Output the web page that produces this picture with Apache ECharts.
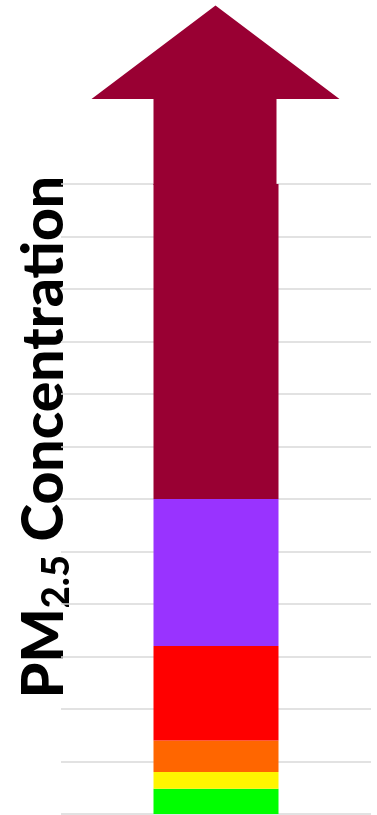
<!DOCTYPE html>
<html>
<head>
<meta charset="utf-8">
<script src="https://cdn.jsdelivr.net/npm/echarts@6/dist/echarts.min.js"></script>
<style>
html,body{margin:0;padding:0;background:#fff;}
#chart{width:377px;height:815px;}
</style>
</head>
<body>
<div id="chart"></div>
<script>
// Data
const categories = ['PM2.5'];
const levelNames = ['Good', 'Moderate', 'Unhealthy for Sensitive Groups', 'Unhealthy', 'Very Unhealthy', 'Hazardous'];
const levelValues = [12, 8, 15, 45, 70, 150];   // stacked segment heights (tops: 12, 20, 35, 80, 150, 300)
const levelColors = ['#00FF00', '#FFF500', '#FF6600', '#FF0000', '#9933FF', '#990033'];
const yMin = 0, yMax = 300, yInterval = 25;
// Arrow (in data units): shaft from bar top to shaftTop, head from shaftTop to tip
const arrowBase = [300];
const arrowShaftTop = [340.5];
const arrowTip = [385];

const chart = echarts.init(document.getElementById('chart'), null, {renderer: 'canvas'});

const series = levelNames.map((name, i) => ({
  name: name,
  type: 'bar',
  stack: 'pm',
  barWidth: 125,
  data: [levelValues[i]],
  itemStyle: {color: levelColors[i]},
  emphasis: {disabled: true},
  silent: true,
  z: 3
}));

series.push({
  type: 'custom',
  name: 'arrow',
  silent: true,
  clip: false,
  z: 4,
  data: [[0, arrowBase[0], arrowShaftTop[0], arrowTip[0]]],
  renderItem: function (params, api) {
    const c = api.coord([api.value(0), api.value(1)]);
    const s = api.coord([api.value(0), api.value(2)]);
    const t = api.coord([api.value(0), api.value(3)]);
    const cx = c[0];
    const shaftL = cx - 62.5, shaftR = cx + 60.5;
    const headHalf = 124;
    const tipX = cx - 0.5;
    return {
      type: 'polygon',
      shape: {
        points: [
          [shaftL, c[1] + 1],
          [shaftL, s[1]],
          [tipX - headHalf, s[1]],
          [tipX, t[1]],
          [tipX + headHalf, s[1]],
          [shaftR, s[1]],
          [shaftR, c[1] + 1]
        ]
      },
      style: {fill: levelColors[5], stroke: null}
    };
  }
});

chart.setOption({
  animation: false,
  backgroundColor: '#ffffff',
  grid: {left: 61, right: 6, top: 184, bottom: 1, containLabel: false},
  xAxis: {
    type: 'category',
    data: categories,
    axisLine: {show: false},
    axisTick: {show: false},
    axisLabel: {show: false},
    splitLine: {show: false}
  },
  yAxis: {
    type: 'value',
    min: yMin,
    max: yMax,
    interval: yInterval,
    axisLine: {show: false},
    axisTick: {show: false},
    axisLabel: {show: false},
    splitLine: {show: true, lineStyle: {color: '#d9d9d9', width: 1.5}}
  },
  graphic: [{
    type: 'text',
    x: 45,
    y: 437,
    rotation: Math.PI / 2,
    silent: true,
    style: {
      text: '{a|PM}{b|2.5}{a| Concentration}',
      align: 'center',
      verticalAlign: 'middle',
      rich: {
        a: {fontFamily: 'Lato', fontWeight: 900, fontSize: 57, lineHeight: 62, verticalAlign: 'middle', fill: '#000000'},
        b: {fontFamily: 'Lato', fontWeight: 900, fontSize: 38, lineHeight: 16, verticalAlign: 'bottom', fill: '#000000'}
      }
    }
  }],
  series: series
});
</script>
</body>
</html>
